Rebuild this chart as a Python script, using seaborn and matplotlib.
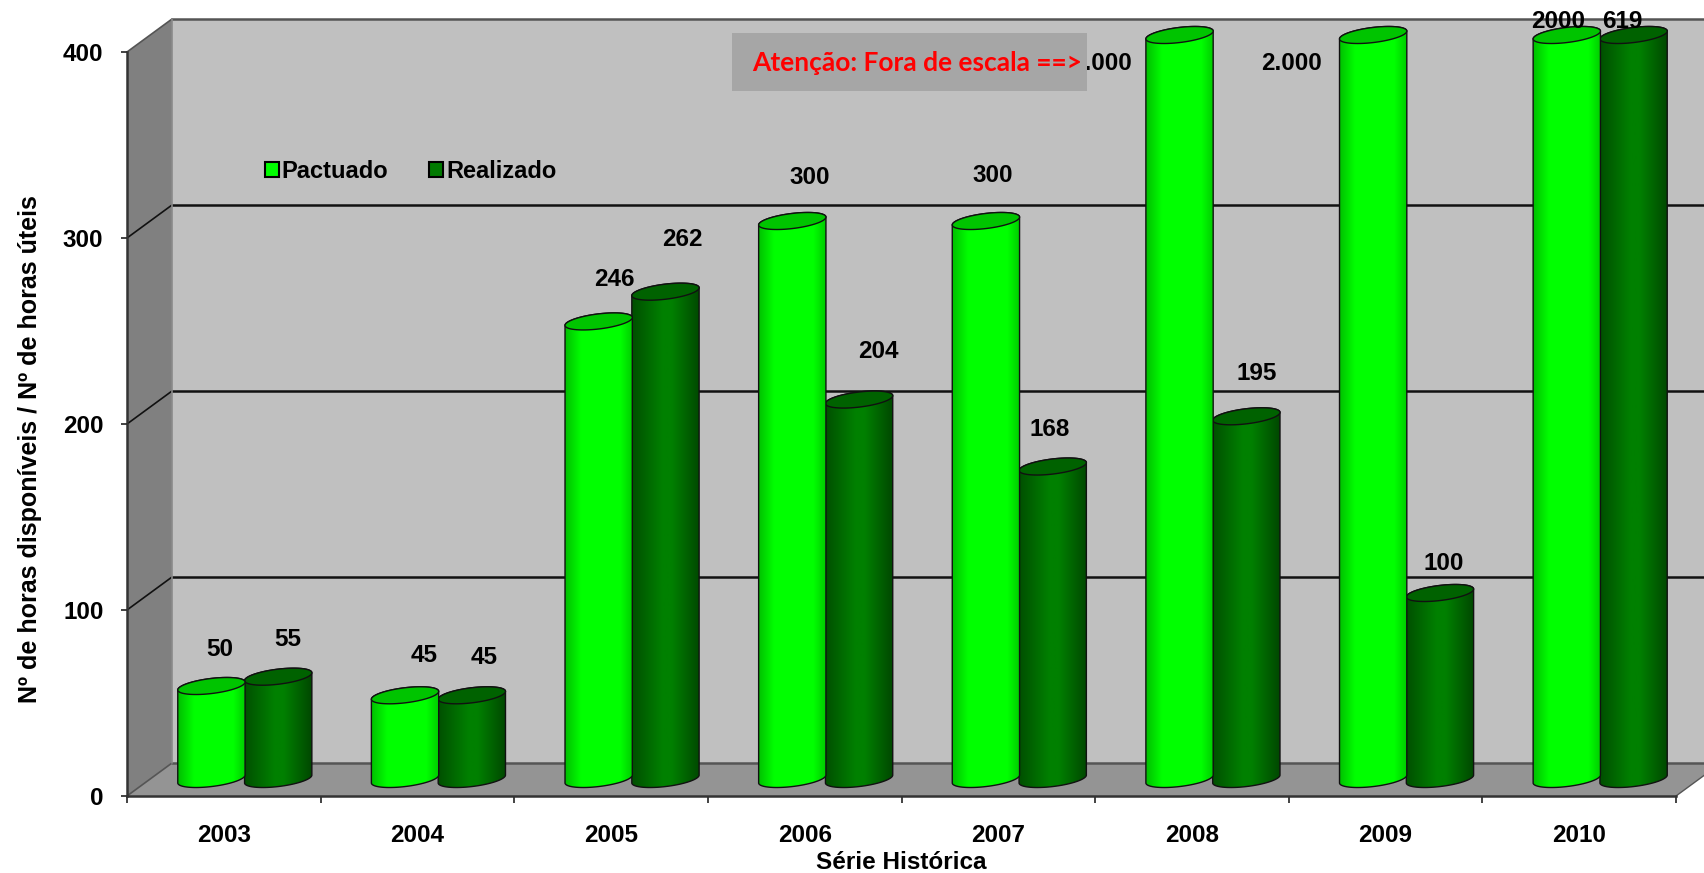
import numpy as np
import pandas as pd
import matplotlib
matplotlib.use("Agg")
import matplotlib.pyplot as plt
from matplotlib.colors import to_rgb
from matplotlib.patches import Polygon, Rectangle
from matplotlib.transforms import IdentityTransform
import seaborn as sns

# dados
anos = ["2003", "2004", "2005", "2006", "2007", "2008", "2009", "2010"]
pactuado = [50, 45, 246, 300, 300, 2000, 2000, 2000]
realizado = [55, 45, 262, 204, 168, 195, 100, 619]
rotulos_pactuado = ["50", "45", "246", "300", "300", "2.000", "2.000", "2000"]
rotulos_realizado = ["55", "45", "262", "204", "168", "195", "100", "619"]
y_ticks = [0, 100, 200, 300, 400]

W, H = 1704, 873
Y_MAX = 400

# posicao dos rotulos em pixels (centro)
pos_pactuado = [(220, 649), (424, 655), (614, 279), (810, 178), (993, 176), (1101, 63), (1292, 63), (1558, 21)]
pos_realizado = [(288, 640), (484, 657), (682, 240), (878, 352), (1050, 429), (1257, 374), (1444, 563), (1622, 21)]

sns.set_style("white")
plt.rcParams["font.family"] = ["Liberation Sans", "DejaVu Sans"]
plt.rcParams["font.weight"] = "bold"
plt.rcParams["axes.labelweight"] = "bold"
plt.rcParams["text.color"] = "black"
plt.rcParams["axes.labelcolor"] = "black"
plt.rcParams["xtick.labelcolor"] = "black"
plt.rcParams["ytick.labelcolor"] = "black"

fig = plt.figure(figsize=(W / 100, H / 100), dpi=100)

# fundo 3D (paredes) em pixels
bg = fig.add_axes([0, 0, 1, 1], zorder=0)
bg.set_xlim(0, W)
bg.set_ylim(H, 0)
bg.axis("off")

# eixo principal no plano da frente: x 127-1676, y 796-52
ax = fig.add_axes([127 / W, 1 - 796 / H, (1676 - 127) / W, (796 - 52) / H], zorder=1)
ax.patch.set_visible(False)

df = pd.DataFrame({
    "ano": anos * 2,
    "valor": pactuado + realizado,
    "serie": ["Pactuado"] * len(anos) + ["Realizado"] * len(anos),
})
sns.barplot(data=df, x="ano", y="valor", hue="serie", ax=ax, width=0.69, saturation=1,
            palette={"Pactuado": "#00FF00", "Realizado": "#007A00"},
            edgecolor="black", linewidth=1.5)
ax.set_xlim(-0.5, len(anos) - 0.5)
ax.set_ylim(0, Y_MAX)
ax.set_yticks(y_ticks)
ax.set_xticks(np.arange(-0.5, len(anos)), minor=True)
ax.tick_params(axis="x", which="major", length=0, pad=20, labelsize=17.5, bottom=False)
ax.tick_params(axis="x", which="minor", length=5, width=1.2, color="#222222", bottom=True)
ax.tick_params(axis="y", length=4, width=1.2, color="#222222", pad=13, labelsize=17.5, left=True)
ax.set_xlabel("Série Histórica", fontsize=17.5, labelpad=3)
ax.set_ylabel("Nº de horas disponíveis / Nº de horas úteis", fontsize=18, labelpad=15, y=0.466)
sns.despine(ax=ax)
for s in ["left", "bottom"]:
    ax.spines[s].set_linewidth(1.8)
    ax.spines[s].set_color("#333333")

sns.move_legend(ax, "center left", bbox_to_anchor=(265, H - 171), bbox_transform=IdentityTransform(),
                ncol=2, title=None, frameon=False, fontsize=17, handlelength=0.6, handleheight=0.6,
                handletextpad=0.11, columnspacing=1.73, borderpad=0, borderaxespad=0)
for t in ax.get_legend().get_texts():
    t.set_color("black")

# profundidade das paredes e deslocamento das barras
DX, DY = 45, 33
to_px = lambda x, y: ax.transData.transform((x, y))
fx0, fy0 = 127, 796
fx1, fy1 = 1676, 52
bg.add_patch(Polygon([(fx0 + DX, fy1 - DY), (W + 30, fy1 - DY), (W + 30, fy0 - DY), (fx0 + DX, fy0 - DY)],
                     fc="#C0C0C0", ec="none"))
bg.add_patch(Polygon([(fx0, fy1), (fx0 + DX, fy1 - DY), (fx0 + DX, fy0 - DY), (fx0, fy0)], fc="#808080", ec="none"))
bg.add_patch(Polygon([(fx0, fy0), (fx0 + DX, fy0 - DY), (fx1 + DX, fy0 - DY), (fx1, fy0)], fc="#949494", ec="none"))
for v in y_ticks:
    yy = H - to_px(0, v)[1]
    cor = "#111111" if 0 < v < Y_MAX else "#555555"
    bg.plot([fx0, fx0 + DX], [yy, yy - DY], color=cor, lw=1.2)
    bg.plot([fx0 + DX, W + 30], [yy - DY, yy - DY], color=cor, lw=1.8)
bg.plot([fx0 + DX, fx0 + DX], [fy1 - DY, fy0 - DY], color="#8a8a8a", lw=1.2)
bg.plot([fx1, fx1 + DX], [fy0, fy0 - DY], color="#555555", lw=1.0)

# cilindros por cima, em pixels
fg = fig.add_axes([0, 0, 1, 1], zorder=2)
fg.patch.set_visible(False)
fg.axis("off")
fg.set_xlim(0, W)
fg.set_ylim(H, 0)
fg.autoscale(False)

TILT = np.deg2rad(-7)
B = 7.5


def elipse(cx, cy, a, t):
    px = cx + a * np.cos(t) * np.cos(TILT) - B * np.sin(t) * np.sin(TILT)
    py = cy + a * np.cos(t) * np.sin(TILT) + B * np.sin(t) * np.cos(TILT)
    return np.column_stack([px, py])


def gradiente(stops, cores):
    cores = np.array([to_rgb(c) for c in cores])
    xs = np.linspace(0, 1, 128)
    return np.stack([np.interp(xs, stops, cores[:, i]) for i in range(3)], axis=1)[None, :, :]


estilos = [
    (gradiente([0, 0.25, 0.8, 1], ["#00B800", "#00FF00", "#00FF00", "#00C400"]), "#00C400"),
    (gradiente([0, 0.45, 0.58, 1], ["#004C00", "#008000", "#008000", "#004400"]), "#006200"),
]

# escuro antes do claro, o topo claro fica por cima
z = 3
for i in range(len(anos)):
    for serie in [1, 0]:
        ret = ax.containers[serie][i]
        x0, _ = to_px(ret.get_x(), 0)
        x1, _ = to_px(ret.get_x() + ret.get_width(), 0)
        _, ytop = to_px(0, min(ret.get_height(), Y_MAX))
        _, ybase = to_px(0, 0)
        cx = (x0 + x1) / 2 + 21
        a = (x1 - x0) / 2 + 0.5
        yt, yb = H - ytop - 17, H - ybase - 17
        grad, cor_topo = estilos[serie]
        t_baixo = np.linspace(0, np.pi, 50)
        t_cima = np.linspace(np.pi, 2 * np.pi, 50)
        corpo = np.vstack([elipse(cx, yb, a, t_baixo), elipse(cx, yt, a, t_cima)])
        contorno = Polygon(corpo, closed=True, fc="none", ec="#111111", lw=1.0, zorder=z + 1)
        fg.add_patch(contorno)
        img = fg.imshow(grad, extent=(cx - a - 2, cx + a + 2, yb + 12, yt - 12), aspect="auto", zorder=z)
        img.set_clip_path(contorno)
        tampa = Polygon(elipse(cx, yt, a, np.linspace(0, 2 * np.pi, 80)), closed=True,
                        fc=cor_topo, ec="#111111", lw=1.0, zorder=z + 2)
        fg.add_patch(tampa)
        z += 3
    ax.containers[0][i].set_visible(False)
    ax.containers[1][i].set_visible(False)

# rotulos de valores
for rotulos, posicoes in [(rotulos_pactuado, pos_pactuado), (rotulos_realizado, pos_realizado)]:
    for txt, (px, py) in zip(rotulos, posicoes):
        fg.text(px, py, txt, fontsize=17.5, ha="center", va="center", color="black", zorder=z)
z += 1

# aviso de fora de escala (cobre parte do rotulo de 2008)
fg.add_patch(Rectangle((732, 33), 355, 58, fc="#A6A6A6", ec="none", zorder=z))
fg.text(752, 63, "Atenção: Fora de escala ==>", fontsize=19, color="#FF0000", family="Lato",
        fontweight="bold", ha="left", va="center", zorder=z + 1)

fig.savefig("out.png", dpi=100)
